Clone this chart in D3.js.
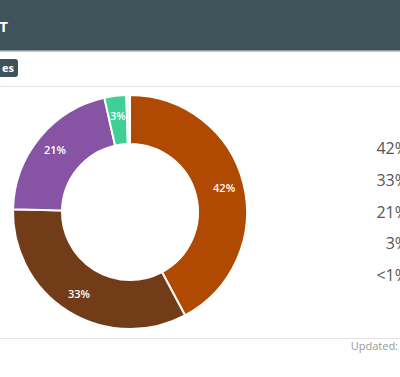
<!DOCTYPE html>
<meta charset="utf-8">
<title>Donut</title>
<style>

    body {
        margin: 0;
        background: #fff;
        font-family: "Open Sans", sans-serif;
    }

    svg {
        display: block;
    }

    .slice {
        stroke: #fff;
        stroke-width: 2px;
    }

</style>
<body>
<script src="https://cdn.jsdelivr.net/npm/d3@7"></script>
<script>

    // slice shares, clockwise from 12 o'clock
    var values = [42, 33, 21, 3, 0.5],
        colors = ["#b04a02", "#733c18", "#8753a4", "#3fd096", "#f4f4f4"],
        sliceLabels = ["42%", "33%", "21%", "3%", ""],
        legendLabels = ["42%", "33%", "21%", "3%", "<1%"];

    var w = 400,
        h = 377,
        cx = 130,
        cy = 212,
        outer = 117,
        inner = 68;

    var svg = d3.select("body").append("svg")
        .attr("width", w)
        .attr("height", h);

    // header bar
    svg.append("rect")
        .attr("width", w)
        .attr("height", 51)
        .style("fill", "#3f535b");
    svg.append("rect")
        .attr("y", 50)
        .attr("width", w)
        .attr("height", 1.5)
        .style("fill", "#8a9699");
    svg.append("text")
        .attr("x", 8)
        .attr("y", 32)
        .attr("text-anchor", "end")
        .style("fill", "#fff")
        .style("font-weight", "bold")
        .style("font-size", "15px")
        .text("T");

    // toolbar button
    svg.append("rect")
        .attr("x", -10)
        .attr("y", 59)
        .attr("width", 28)
        .attr("height", 18)
        .attr("rx", 3)
        .style("fill", "#3f535b");
    svg.append("text")
        .attr("x", 14)
        .attr("y", 72)
        .attr("text-anchor", "end")
        .style("fill", "#fff")
        .style("font-weight", "bold")
        .style("font-size", "11px")
        .text("es");

    // separators
    [86, 338].forEach(function(y) {
        svg.append("rect")
            .attr("y", y)
            .attr("width", w)
            .attr("height", 1)
            .style("fill", "#e4e4e4");
    });

    var pie = d3.pie().sort(null)(values);

    var arc = d3.arc()
        .innerRadius(inner)
        .outerRadius(outer);

    var labelArc = d3.arc()
        .innerRadius(97)
        .outerRadius(97);

    var g = svg.append("g")
        .attr("transform", "translate(" + cx + "," + cy + ")");

    g.selectAll("path")
        .data(pie)
        .enter().append("path")
        .attr("class", "slice")
        .attr("d", arc)
        .style("fill", function(d, i) { return colors[i]; });

    g.selectAll("text")
        .data(pie)
        .enter().append("text")
        .attr("transform", function(d) { return "translate(" + labelArc.centroid(d) + ")"; })
        .attr("dy", "0.35em")
        .attr("text-anchor", "middle")
        .style("fill", "#fff")
        .style("font-size", "11px")
        .style("font-weight", 600)
        .text(function(d, i) { return sliceLabels[i]; });

    // legend percentages (cut by window edge, as in the dashboard crop)
    var ly = d3.scalePoint()
        .domain(d3.range(legendLabels.length))
        .range([154, 281]);

    svg.selectAll(".legend")
        .data(legendLabels)
        .enter().append("text")
        .attr("class", "legend")
        .attr("x", 408)
        .attr("y", function(d, i) { return ly(i); })
        .attr("text-anchor", "end")
        .style("fill", "#555")
        .style("font-size", "16px")
        .text(function(d) { return d; });

    svg.append("text")
        .attr("x", 398)
        .attr("y", 350)
        .attr("text-anchor", "end")
        .style("fill", "#999")
        .style("font-size", "11px")
        .text("Updated:");

</script>
